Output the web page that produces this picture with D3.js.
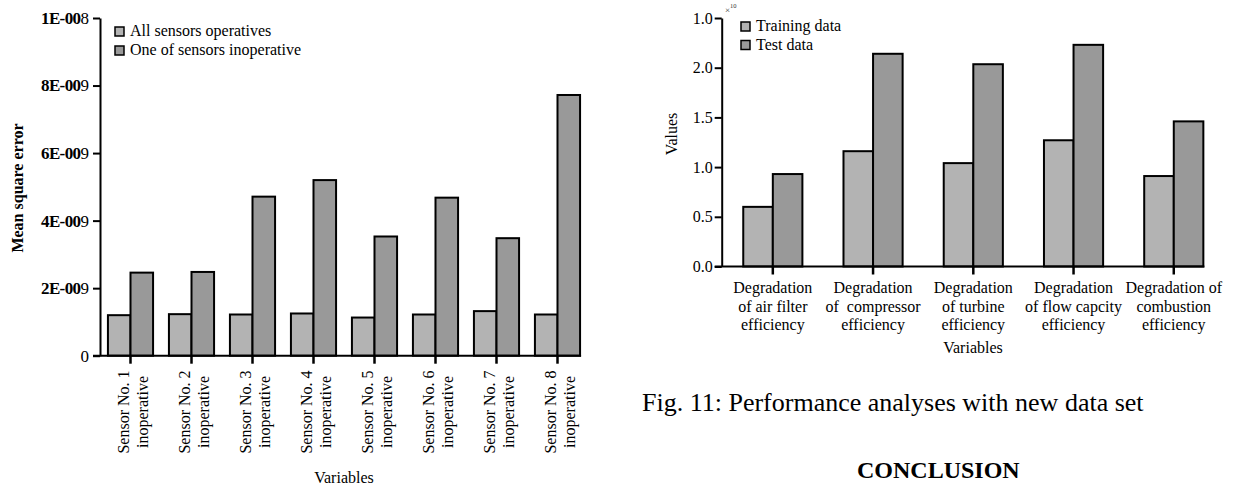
<!DOCTYPE html>
<html>
<head>
<meta charset="utf-8">
<script src="https://cdn.jsdelivr.net/npm/d3@7"></script>
<style>
  body { margin: 0; background: #fff; }
  svg { display: block; font-family: "Liberation Serif", "Times New Roman", serif; }
  text { white-space: pre; }
</style>
</head>
<body>
<svg id="page" width="1237" height="489"></svg>
<script>
// left chart: mean square error per inoperative sensor
var sensorNames = ["Sensor No. 1", "Sensor No. 2", "Sensor No. 3", "Sensor No. 4",
                   "Sensor No. 5", "Sensor No. 6", "Sensor No. 7", "Sensor No. 8"];
var allOperative = [1.20e-9, 1.23e-9, 1.22e-9, 1.25e-9, 1.13e-9, 1.22e-9, 1.32e-9, 1.22e-9];
var oneInoperative = [2.46e-9, 2.48e-9, 4.71e-9, 5.20e-9, 3.53e-9, 4.68e-9, 3.48e-9, 7.72e-9];
var leftTicks = [0, 2e-9, 4e-9, 6e-9, 8e-9, 1e-8];
var leftTickLabels = ["0", "2E-009", "4E-009", "6E-009", "8E-009", "1E-008"];
var leftSeries = ["All sensors operatives", "One of sensors inoperative"];

// right chart: performance with new data set (x10^10)
var degradNames = [
  ["Degradation", "of air filter", "efficiency"],
  ["Degradation", "of  compressor", "efficiency"],
  ["Degradation", "of turbine", "efficiency"],
  ["Degradation", "of flow capcity", "efficiency"],
  ["Degradation of", "combustion", "efficiency"]
];
var trainingData = [0.60, 1.16, 1.04, 1.27, 0.91];
var testData = [0.93, 2.14, 2.035, 2.23, 1.46];
var rightTicks = [0, 0.5, 1.0, 1.5, 2.0, 2.5];
var rightTickLabels = ["0.0", "0.5", "1.0", "1.5", "2.0", "1.0"];
var rightSeries = ["Training data", "Test data"];

var colors = ["#b3b3b3", "#999999"];

var svg = d3.select("#page");

/**
 * draws one grouped bar chart, returns scales
 */
function barChart(opt) {
    var g = svg.append("g");
    var x = d3.scaleBand().domain(d3.range(opt.a.length))
        .range(opt.xRange).paddingInner(opt.padIn).paddingOuter(opt.padOut);
    var xs = d3.scaleBand().domain([0, 1]).range([0, x.bandwidth()]);
    var y = d3.scaleLinear().domain(opt.yDomain).range(opt.yRange);

    // bars
    var groups = g.selectAll(".grp")
        .data(d3.range(opt.a.length))
        .enter().append("g")
        .attr("class", "grp")
        .attr("transform", function (i) { return "translate(" + x(i) + ",0)"; });
    groups.selectAll("rect")
        .data(function (i) { return [opt.a[i], opt.b[i]]; })
        .enter().append("rect")
        .attr("x", function (d, k) { return xs(k); })
        .attr("y", function (d) { return y(d); })
        .attr("width", xs.bandwidth())
        .attr("height", function (d) { return y(0) - y(d); })
        .attr("fill", function (d, k) { return colors[k]; })
        .attr("stroke", "#000")
        .attr("stroke-width", 2);

    // y axis
    var yAxis = g.append("g")
        .attr("transform", "translate(" + opt.xRange[0] + ",0)")
        .call(d3.axisLeft(y).tickValues(opt.ticks).tickSize(7).tickSizeOuter(0)
            .tickFormat(function (d, i) { return opt.tickLabels[i]; }));
    yAxis.select(".domain").attr("stroke-width", 2);
    yAxis.selectAll(".tick line").attr("stroke-width", 2);
    yAxis.selectAll(".tick text")
        .attr("font-family", "Liberation Serif")
        .attr("font-size", opt.tickFont)
        .attr("fill", "#000")
        .attr("x", opt.tickLabelX);

    // x axis, ticks at the middle of each pair
    var xAxis = g.append("g")
        .attr("transform", "translate(0," + y(0) + ")")
        .call(d3.axisBottom(x).tickSize(8).tickFormat(""));
    xAxis.select(".domain").remove();
    xAxis.selectAll(".tick text").remove();
    xAxis.selectAll(".tick line").attr("stroke-width", 2.5);
    g.append("line")
        .attr("x1", opt.xRange[0] - 7).attr("x2", x(opt.a.length - 1) + x.bandwidth() + 1)
        .attr("y1", y(0)).attr("y2", y(0))
        .attr("stroke", "#000").attr("stroke-width", 2);

    // legend
    opt.series.forEach(function (name, k) {
        var ly = opt.legendY + k * opt.legendStep;
        g.append("rect")
            .attr("x", opt.legendX).attr("y", ly - 9)
            .attr("width", 9).attr("height", 9)
            .attr("fill", colors[k]).attr("stroke", "#000").attr("stroke-width", 1.5);
        g.append("text")
            .attr("x", opt.legendX + 15).attr("y", ly)
            .attr("font-size", 16)
            .text(name);
    });

    return {g: g, x: x, xs: xs, y: y, yAxis: yAxis};
}

// ---------- left chart
var left = barChart({
    a: allOperative, b: oneInoperative,
    xRange: [100, 588], padIn: 0.26, padOut: 0.13,
    yDomain: [0, 1e-8], yRange: [355.7, 18],
    ticks: leftTicks, tickLabels: leftTickLabels, tickFont: 17, tickLabelX: -11,
    series: leftSeries, legendX: 115, legendY: 36, legendStep: 19
});

// bold mantissa, plain last digit
left.yAxis.selectAll(".tick text").each(function (d, i) {
    var s = leftTickLabels[i];
    var t = d3.select(this).text(null);
    if (s.length > 1) {
        t.append("tspan").attr("font-weight", "bold").attr("letter-spacing", -0.6).text(s.slice(0, -1));
        t.append("tspan").text(s.slice(-1));
    } else {
        t.append("tspan").text(s);
    }
});

sensorNames.forEach(function (name, i) {
    var cx = left.x(i) + left.xs(1);
    var t = left.g.append("g")
        .attr("transform", "translate(" + cx + ",412) rotate(-90)");
    t.append("text").attr("y", -2).attr("text-anchor", "middle").attr("font-size", 16).text(name);
    t.append("text").attr("y", 17).attr("text-anchor", "middle").attr("font-size", 16).text("inoperative");
});

left.g.append("text")
    .attr("transform", "translate(23,188) rotate(-90)")
    .attr("text-anchor", "middle")
    .attr("font-size", 16).attr("font-weight", "bold")
    .text("Mean square error");

left.g.append("text")
    .attr("x", 344).attr("y", 483)
    .attr("text-anchor", "middle").attr("font-size", 16)
    .text("Variables");

// ---------- right chart
var right = barChart({
    a: trainingData, b: testData,
    xRange: [721.7, 1224.9], padIn: 0.41, padOut: 0.215,
    yDomain: [0, 2.5], yRange: [266.5, 18],
    ticks: rightTicks, tickLabels: rightTickLabels, tickFont: 16, tickLabelX: -9,
    series: rightSeries, legendX: 741, legendY: 31, legendStep: 18.5
});

degradNames.forEach(function (lines, i) {
    var cx = right.x(i) + right.xs(1);
    lines.forEach(function (ln, j) {
        right.g.append("text")
            .attr("x", cx).attr("y", 293 + j * 18.5)
            .attr("text-anchor", "middle").attr("font-size", 16)
            .text(ln);
    });
});

// x10 exponent marker
var ex = right.g.append("text").attr("x", 725).attr("y", 13).attr("font-size", 9).attr("fill", "#333");
ex.append("tspan").text("\u00d7");
ex.append("tspan").attr("font-size", 6.5).attr("dy", -5).text("10");

right.g.append("text")
    .attr("transform", "translate(677,134) rotate(-90)")
    .attr("text-anchor", "middle").attr("font-size", 16)
    .text("Values");

right.g.append("text")
    .attr("x", 973).attr("y", 353)
    .attr("text-anchor", "middle").attr("font-size", 16)
    .text("Variables");

// ---------- caption and heading
svg.append("text")
    .attr("x", 642).attr("y", 411)
    .attr("font-size", 26)
    .text("Fig. 11: Performance analyses with new data set");

svg.append("text")
    .attr("x", 857).attr("y", 478)
    .attr("font-size", 24).attr("font-weight", "bold")
    .text("CONCLUSION");
</script>
</body>
</html>
